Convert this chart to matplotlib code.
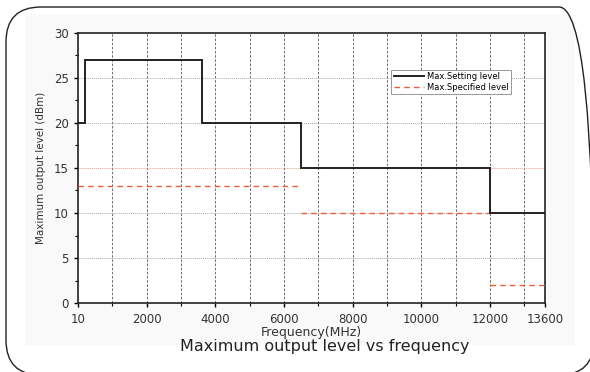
import matplotlib.pyplot as plt
from matplotlib.patches import FancyBboxPatch, Rectangle

# Max. setting level: step edges (MHz) and levels (dBm)
set_edges = [10, 200, 3600, 6500, 12000, 13600]
set_levels = [20, 27, 20, 15, 10]

# Max. specified level: segments start, end, level
spec_start = [10, 6500, 12000]
spec_end = [6500, 12000, 13600]
spec_levels = [13, 10, 2]

x_ticks = [10, 2000, 4000, 6000, 8000, 10000, 12000, 13600]
x_minor = [1000, 3000, 5000, 7000, 9000, 11000, 13000]
y_ticks = [0, 5, 10, 15, 20, 25, 30]

plt.rcParams['font.family'] = ['DejaVu Sans']

fig = plt.figure(figsize=(5.9, 3.72), dpi=100)

# rounded outer frame and faint background
fig.patches.append(Rectangle((25 / 590, 27 / 372), 550 / 590, 330 / 372,
                             transform=fig.transFigure, facecolor='#f9f9f9',
                             edgecolor='none', zorder=-2))
frame = FancyBboxPatch((6, -3), 588, 368, boxstyle='round,pad=0,rounding_size=35',
                       transform=None, facecolor='none', edgecolor='#222222',
                       linewidth=1.0, zorder=5)
fig.patches.append(frame)

ax = fig.add_axes([78 / 590, 69 / 372, 467 / 590, 270 / 372])
ax.set_facecolor('white')

ax.stairs(set_levels, set_edges, baseline=None, color='#222222', linewidth=1.4,
          label='Max.Setting level', zorder=4)
ax.hlines(spec_levels, spec_start, spec_end, colors='#e8603a', linestyles=(0, (4, 3)),
          linewidth=1.0, label='Max.Specified level', zorder=3)

# grid
for xv in x_minor + [2000, 4000, 6000, 8000, 10000, 12000]:
    ax.axvline(xv, color='#555555', linestyle=(0, (3, 2)), linewidth=0.6, zorder=1)
for yv in [5, 10, 20, 25]:
    ax.axhline(yv, color='#aaaaaa', linestyle=(0, (1, 1)), linewidth=0.7, zorder=1)
ax.axhline(15, color='#f0a090', linestyle=(0, (1, 1)), linewidth=0.7, zorder=1)

ax.set_xlim(0, 13600)
ax.set_ylim(0, 30)
ax.set_xticks(x_ticks)
ax.set_xticklabels([str(v) for v in x_ticks])
ax.set_xticks(x_minor, minor=True)
ax.set_yticks(y_ticks)
ax.set_yticks([2.5, 7.5, 12.5, 17.5, 22.5, 27.5], minor=True)
ax.tick_params(axis='both', which='major', direction='out', length=3, width=1,
               labelsize=8.5, labelcolor='#333333')
ax.tick_params(axis='x', which='major', pad=4)
ax.tick_params(axis='both', which='minor', direction='out', length=2, width=0.8)
for s in ax.spines.values():
    s.set_linewidth(1.2)
    s.set_color('#222222')

ax.set_ylabel('Maximum output level (dBm)', fontsize=7.5, color='#333333', labelpad=6)
ax.set_xlabel('Frequency(MHz)', fontsize=9, color='#333333', labelpad=0)
fig.text(325 / 590, 1 - 347 / 372, 'Maximum output level vs frequency',
         ha='center', va='center', fontsize=11.5, color='#222222')

leg = ax.legend(loc='upper left', bbox_to_anchor=(0.662, 0.88), fontsize=6,
                frameon=True, fancybox=False, edgecolor='#888888', framealpha=1,
                borderpad=0.3, handlelength=3.6, labelspacing=0.2, handletextpad=0.4)
leg.get_frame().set_linewidth(0.6)

fig.savefig('out.png', dpi=100)
